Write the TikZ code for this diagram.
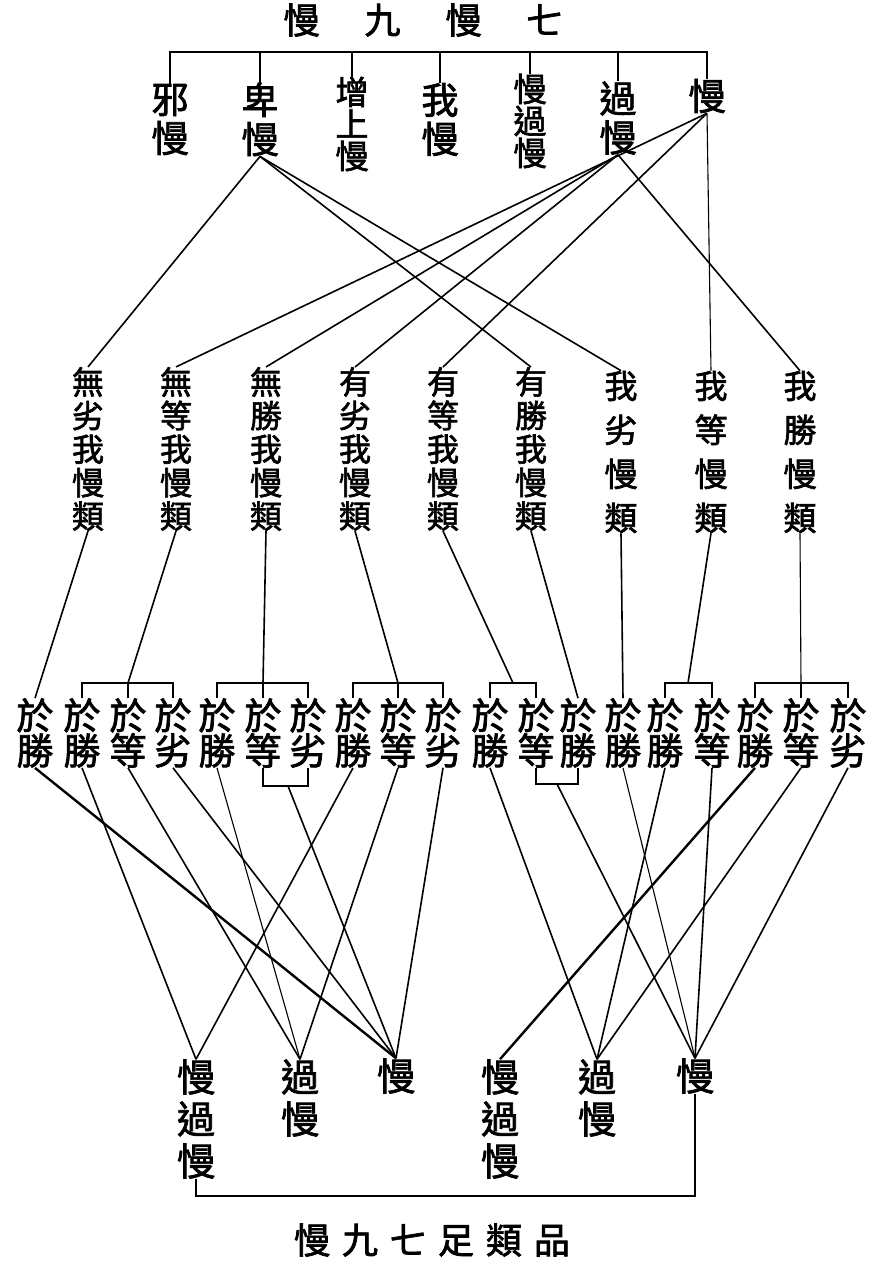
\documentclass[tikz,border=0pt]{standalone}
\usepackage{fontspec}
\newfontfamily\cjk{Noto Sans CJK TC}[FakeBold=2]
\begin{document}
\begin{tikzpicture}[x=1pt,y=-1pt,
  every node/.style={inner sep=0pt, align=center},
  rowa/.style={font=\cjk\fontsize{37}{39}\selectfont},
  rowac/.style={font=\cjk\fontsize{33}{32}\selectfont},
  rowb/.style={font=\cjk\fontsize{32}{33.5}\selectfont},
  rowbw/.style={font=\cjk\fontsize{33}{44}\selectfont},
  rowc/.style={font=\cjk\fontsize{37}{35}\selectfont},
  rowd/.style={font=\cjk\fontsize{38}{42}\selectfont},
  ttl/.style={font=\cjk\fontsize{36}{40}\selectfont},
  ln/.style={line width=1.6pt},
  lnk/.style={line width=2.4pt},
  lnt/.style={line width=1.1pt},
  brk/.style={line width=1.9pt},
]
\useasboundingbox (0,0) rectangle (874,1262);
\fill[white] (0,0) rectangle (874,1262);

% titles
\node[ttl] (top) at (423,20) {慢\hspace{45pt}九\hspace{45pt}慢\hspace{45pt}七};
\node[ttl] (bot) at (432,1240) {慢\hspace{12pt}九\hspace{12pt}七\hspace{12pt}足\hspace{12pt}類\hspace{12pt}品};

% row 1
\node[rowa]  (t1) at (170,119.5) {邪\\慢};
\node[rowa]  (t2) at (260,119.5) {卑\\慢};
\node[rowac] (t3) at (352,124) {增\\上\\慢};
\node[rowa]  (t4) at (440,119.5) {我\\慢};
\node[rowac] (t5) at (530,121) {慢\\過\\慢};
\node[rowa]  (t6) at (618,118) {過\\慢};
\node[rowa]  (t7) at (707,96) {慢};

\draw[brk] (t1.north) -- (t1.north |- 0,52) -- (t7.north |- 0,52) -- (t7.north);
\foreach \n in {t2,t3,t4,t5,t6} \draw[brk] (\n.north) -- (\n.north |- 0,52);

% row 2
\node[rowb]  (c1) at (88,449)  {無\\劣\\我\\慢\\類};
\node[rowb]  (c2) at (176,449) {無\\等\\我\\慢\\類};
\node[rowb]  (c3) at (266,449) {無\\勝\\我\\慢\\類};
\node[rowb]  (c4) at (355,449) {有\\劣\\我\\慢\\類};
\node[rowb]  (c5) at (443,449) {有\\等\\我\\慢\\類};
\node[rowb]  (c6) at (531,449) {有\\勝\\我\\慢\\類};
\node[rowbw] (c7) at (621,452) {我\\劣\\慢\\類};
\node[rowbw] (c8) at (711,452) {我\\等\\慢\\類};
\node[rowbw] (c9) at (800,452) {我\\勝\\慢\\類};

\draw[ln] (t2.south) -- (c1.north);
\draw[ln] (t2.south) -- (c6.north);
\draw[ln] (t2.south) -- (c7.north);
\draw[ln] (t6.south) -- (c3.north);
\draw[ln] (t6.south) -- (c4.north);
\draw[ln] (t6.south) -- (c9.north);
\draw[ln] (t7.south) -- (c2.north);
\draw[ln] (t7.south) -- (c5.north);
\draw[lnt] (t7.south) -- (c8.north);

% row 3
\foreach \i/\x/\c in {1/35/勝,2/82/勝,3/128/等,4/173/劣,5/217/勝,6/263/等,7/308/劣,8/353/勝,9/398/等,10/443/劣,11/490/勝,12/536/等,13/578/勝,14/623/勝,15/665/勝,16/712/等,17/755/勝,18/801/等,19/848/劣}
  \node[rowc] (p\i) at (\x,733) {於\\\c};

\foreach \a/\b in {p2/p4,p5/p7,p8/p10,p11/p12,p15/p16,p17/p19}
  \draw[brk] (\a.north) -- (\a.north |- 0,683) -- (\b.north |- 0,683) -- (\b.north);
\foreach \n in {p3,p6,p9,p18} \draw[brk] (\n.north) -- (\n.north |- 0,683);
\coordinate (k1) at (p3.north |- 0,683);
\coordinate (k2) at (p6.north |- 0,683);
\coordinate (k3) at (p9.north |- 0,683);
\coordinate (k4) at (513,683);
\coordinate (k5) at (688,683);
\coordinate (k6) at (p18.north |- 0,683);

\draw[ln] (c1.south) -- (p1.north);
\draw[ln] (c2.south) -- (k1);
\draw[ln] (c3.south) -- (k2);
\draw[ln] (c4.south) -- (k3);
\draw[ln] (c5.south) -- (k4);
\draw[ln] (c6.south) -- (p13.north);
\draw[ln] (c7.south) -- (p14.north);
\draw[ln] (c8.south) -- (k5);
\draw[lnt] (c9.south) -- (k6);

\draw[brk] (p6.south) -- (p6.south |- 0,786) -- (p7.south |- 0,786) -- (p7.south);
\coordinate (m1) at (288,786);
\draw[brk] (p12.south) -- (p12.south |- 0,784) -- (p13.south |- 0,784) -- (p13.south);
\coordinate (m2) at (557,784);

% row 4
\node[rowd] (b1) at (196,1119) {慢\\過\\慢};
\node[rowd] (b2) at (300,1098) {過\\慢};
\node[rowd] (b3) at (396,1076) {慢};
\node[rowd] (b4) at (500,1119) {慢\\過\\慢};
\node[rowd] (b5) at (597,1098) {過\\慢};
\node[rowd] (b6) at (695,1076) {慢};

\draw[lnk] (p1.south) -- (b3.north);
\draw[ln] (p2.south) -- (b1.north);
\draw[ln] (p3.south) -- (b2.north);
\draw[ln] (p4.south) -- (b3.north);
\draw[lnt] (p5.south) -- (b2.north);
\draw[ln] (m1) -- (b3.north);
\draw[ln] (p8.south) -- (b1.north);
\draw[ln] (p9.south) -- (b2.north);
\draw[ln] (p10.south) -- (b3.north);
\draw[ln] (p11.south) -- (b5.north);
\draw[ln] (m2) -- (b6.north);
\draw[lnt] (p14.south) -- (b6.north);
\draw[ln] (p15.south) -- (b5.north);
\draw[ln] (p16.south) -- (b6.north);
\draw[lnk] (p17.south) -- (b4.north);
\draw[ln] (p18.south) -- (b5.north);
\draw[ln] (p19.south) -- (b6.north);

\draw[brk] (b1.south) -- (b1.south |- 0,1196) -- (b6.south |- 0,1196) -- (b6.south);
\end{tikzpicture}
\end{document}
